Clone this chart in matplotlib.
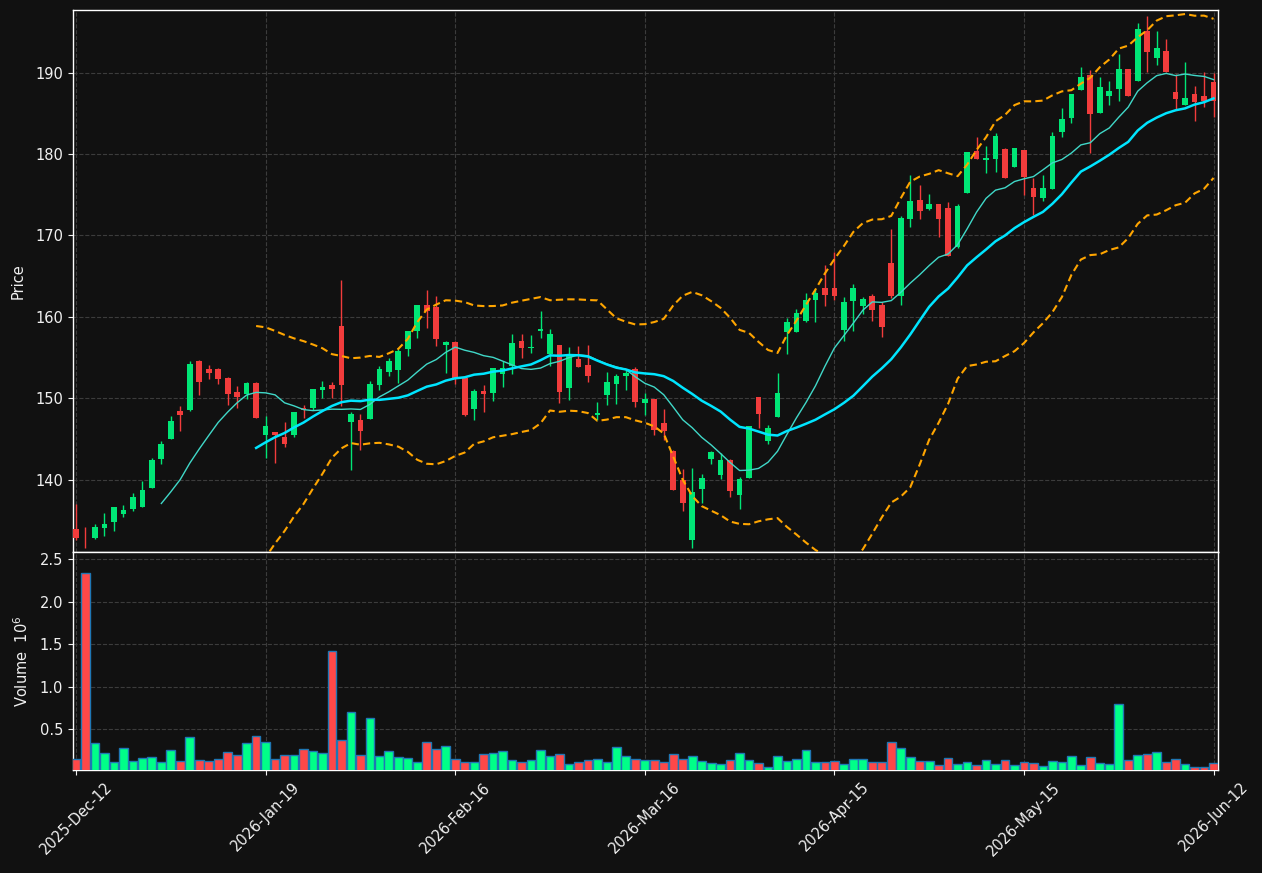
import numpy as np
import pandas as pd
import matplotlib
matplotlib.use("Agg")
import matplotlib.pyplot as plt

# ---- data ----
opens = [133.94, 132.9, 132.88, 134.11, 134.84, 135.83, 136.4, 136.7, 139.02, 142.58,
         145.04, 148.44, 148.6, 154.54, 153.6, 153.6, 152.49, 150.77, 150.49, 151.88,
         145.49, 145.82, 145.25, 145.53, 148.8, 148.85, 151.06, 151.6, 158.88, 147.13,
         147.33, 147.49, 151.63, 153.27, 153.51, 156.06, 158.3, 161.46, 161.22, 156.5,
         156.92, 152.53, 148.72, 150.9, 150.69, 153.02, 154.0, 157.04, 156.2, 158.27,
         155.44, 156.55, 151.3, 154.83, 154.09, 147.95, 150.41, 151.79, 152.74, 153.56,
         149.46, 149.88, 147.0, 143.53, 139.96, 132.59, 138.86, 142.54, 140.58, 142.42,
         138.16, 140.25, 150.16, 144.79, 147.74, 158.18, 158.18, 159.5, 162.08, 163.51,
         163.51, 158.39, 161.99, 161.34, 162.53, 161.46, 166.62, 162.6, 172.06, 174.36,
         173.26, 173.87, 173.38, 168.62, 175.26, 180.38, 179.31, 179.43, 180.63, 178.45,
         180.5, 175.8, 174.64, 175.71, 182.75, 184.47, 187.87, 189.72, 185.09, 187.14,
         188.0, 190.45, 189.02, 195.12, 191.84, 192.67, 187.63, 186.07, 187.38, 187.14,
         188.86]
highs = [137.0, 134.15, 134.56, 135.87, 136.7, 136.9, 138.33, 139.8, 142.63, 144.75,
         147.79, 149.05, 154.62, 154.7, 154.05, 153.75, 152.65, 151.51, 151.95, 151.95,
         147.85, 145.9, 147.13, 148.3, 149.18, 151.2, 152.09, 152.0, 164.5, 148.32,
         148.07, 152.16, 153.97, 154.91, 156.09, 158.3, 161.5, 163.3, 162.57, 157.0,
         157.0, 152.6, 151.14, 151.6, 153.75, 154.62, 157.9, 157.9, 157.78, 160.72,
         158.48, 156.6, 156.27, 156.46, 156.55, 149.51, 153.19, 152.99, 153.48, 153.8,
         150.61, 149.95, 148.65, 143.6, 141.31, 141.4, 140.66, 143.56, 143.24, 142.5,
         140.29, 146.65, 150.2, 146.72, 153.07, 159.83, 160.93, 162.9, 163.43, 166.34,
         167.94, 162.48, 164.0, 162.48, 162.81, 161.79, 170.76, 172.43, 177.43, 176.17,
         175.06, 173.9, 174.15, 173.83, 180.25, 182.06, 181.0, 182.56, 180.7, 180.8,
         180.55, 177.03, 177.43, 182.75, 185.63, 187.4, 190.66, 190.33, 189.43, 188.98,
         192.26, 190.5, 196.07, 196.97, 195.09, 194.1, 189.8, 191.28, 188.37, 190.09,
         189.93]
lows = [132.6, 131.57, 132.71, 133.12, 133.74, 135.46, 136.2, 136.6, 138.95, 141.89,
        144.95, 145.95, 148.5, 150.37, 152.33, 151.72, 149.14, 148.85, 149.88, 147.55,
        142.63, 142.01, 143.98, 145.21, 147.54, 148.56, 150.07, 150.07, 149.02, 141.19,
        143.65, 147.45, 151.02, 152.74, 151.84, 155.2, 157.37, 158.6, 156.46, 153.07,
        151.76, 147.83, 147.33, 148.35, 149.63, 151.43, 152.95, 154.99, 155.53, 157.37,
        153.97, 149.39, 149.79, 153.8, 151.97, 147.33, 149.18, 149.26, 151.02, 148.97,
        147.95, 145.45, 144.88, 138.7, 136.2, 131.57, 137.17, 141.89, 140.05, 137.84,
        136.36, 140.2, 146.31, 144.35, 147.7, 155.44, 158.15, 159.4, 159.41, 161.38,
        162.08, 157.0, 158.3, 160.32, 159.53, 157.57, 162.29, 161.46, 171.08, 171.99,
        173.13, 169.78, 167.5, 168.5, 175.2, 179.4, 177.64, 177.84, 177.05, 178.4,
        174.98, 172.52, 174.28, 175.65, 182.06, 183.78, 187.85, 180.17, 185.05, 186.03,
        186.56, 187.1, 188.95, 190.09, 190.91, 190.1, 185.58, 186.03, 184.07, 185.82,
        184.52]
closes = [132.88, 132.8, 134.19, 134.6, 136.65, 136.28, 137.87, 138.73, 142.42, 144.39,
          147.21, 147.99, 154.21, 152.04, 153.15, 152.41, 150.57, 150.2, 151.88, 147.62,
          146.62, 145.53, 144.43, 148.28, 148.6, 151.14, 151.39, 151.18, 151.67, 148.07,
          146.02, 151.76, 153.6, 154.58, 155.81, 158.27, 161.46, 160.76, 157.28, 156.92,
          152.46, 147.95, 150.9, 150.57, 153.72, 153.72, 156.79, 156.22, 156.3, 158.51,
          157.9, 150.81, 155.44, 153.88, 152.78, 148.23, 152.04, 152.74, 153.07, 149.59,
          149.91, 146.11, 146.02, 138.77, 137.17, 138.49, 140.21, 143.4, 142.42, 138.61,
          140.09, 146.6, 148.11, 146.35, 150.65, 159.37, 160.44, 162.08, 162.9, 162.69,
          162.6, 161.79, 163.51, 162.2, 160.85, 158.8, 162.6, 172.15, 174.24, 173.05,
          173.87, 172.03, 167.52, 173.62, 180.22, 179.43, 179.52, 182.22, 177.1, 180.75,
          177.22, 174.77, 175.8, 182.22, 184.31, 187.38, 189.51, 184.93, 188.21, 187.75,
          190.45, 187.14, 195.37, 192.58, 193.03, 190.12, 186.81, 186.89, 186.44, 186.56,
          186.56]
volumes_m = [0.15, 2.335, 0.335, 0.22, 0.11, 0.28, 0.124, 0.159, 0.17, 0.11,
             0.253, 0.124, 0.406, 0.135, 0.124, 0.147, 0.23, 0.194, 0.335, 0.418,
             0.347, 0.147, 0.194, 0.194, 0.265, 0.241, 0.22, 1.418, 0.374, 0.70,
             0.194, 0.629, 0.182, 0.241, 0.17, 0.159, 0.12, 0.347, 0.265, 0.30,
             0.147, 0.12, 0.12, 0.206, 0.22, 0.241, 0.135, 0.12, 0.135, 0.253,
             0.182, 0.206, 0.096, 0.12, 0.135, 0.147, 0.11, 0.288, 0.182, 0.147,
             0.135, 0.135, 0.12, 0.206, 0.147, 0.182, 0.124, 0.10, 0.088, 0.135,
             0.22, 0.135, 0.10, 0.053, 0.182, 0.124, 0.147, 0.253, 0.11, 0.11,
             0.124, 0.088, 0.147, 0.147, 0.11, 0.11, 0.347, 0.276, 0.17, 0.124,
             0.124, 0.076, 0.159, 0.088, 0.11, 0.076, 0.135, 0.088, 0.135, 0.076,
             0.11, 0.10, 0.065, 0.124, 0.11, 0.182, 0.076, 0.17, 0.10, 0.088,
             0.794, 0.135, 0.194, 0.206, 0.23, 0.11, 0.147, 0.088, 0.053, 0.053,
             0.10]
tick_labels = ["2025-Dec-12", "2026-Jan-19", "2026-Feb-16", "2026-Mar-16",
               "2026-Apr-15", "2026-May-15", "2026-Jun-12"]
tick_step = 20

# ---- styling ----
BG = "#111111"
UP = "#00e676"
DOWN = "#f23c3c"
VUP = "#00ff88"
VDOWN = "#ff4848"
TXT = "#f0f0f0"

plt.rcParams["font.family"] = ["DejaVu Sans"]

o = np.array(opens); h = np.array(highs); l = np.array(lows); c = np.array(closes)
v = np.array(volumes_m)
x = np.arange(len(c))
up = c >= o

cs = pd.Series(c)
ma10 = cs.rolling(10).mean()
ma20 = cs.rolling(20).mean()
sd20 = cs.rolling(20).std(ddof=0)
bb_up = ma20 + 2 * sd20
bb_lo = ma20 - 2 * sd20

W, H = 1262, 873
fig = plt.figure(figsize=(W / 100, H / 100), dpi=100, facecolor=BG)
L, R = 72.7 / W, 1218.3 / W
ax = fig.add_axes([L, 1 - 552 / H, R - L, (552 - 10) / H])
axv = fig.add_axes([L, 1 - 770 / H, R - L, (770 - 552) / H], sharex=ax)

for a in (ax, axv):
    a.set_facecolor(BG)
    for s in a.spines.values():
        s.set_color("white")
        s.set_linewidth(1.0)
    a.tick_params(colors=TXT, labelsize=10.5)
    a.grid(True, color="#3c3c3c", linestyle="--", linewidth=0.8)
    a.set_axisbelow(True)

# candles
ax.vlines(x, l, h, colors=np.where(up, UP, DOWN), linewidth=1.0, zorder=2)
body_lo = np.minimum(o, c)
body_h = np.maximum(np.abs(c - o), 0.1)
ax.bar(x, body_h, bottom=body_lo, width=0.6, color=np.where(up, UP, DOWN),
       linewidth=0, zorder=3)

# indicators
ax.plot(x, ma10, color="#40d8c8", linewidth=1.0, zorder=4)
ax.plot(x, ma20, color="#00e5ff", linewidth=1.8, zorder=4)
ax.plot(x, bb_up, color="#ffa500", linewidth=1.5, linestyle=(0, (3.5, 2)), zorder=4)
ax.plot(x, bb_lo, color="#ffa500", linewidth=1.5, linestyle=(0, (3.5, 2)), zorder=4)

ax.set_ylim(131.12, 197.7)
ax.set_yticks([140, 150, 160, 170, 180, 190])
ax.set_ylabel("Price", color=TXT, fontsize=10.5, labelpad=7)
ax.tick_params(axis="x", which="both", length=0, labelbottom=False)

# volume
axv.bar(x, v, width=0.92, color=np.where(up, VUP, VDOWN), edgecolor="#1f77b4",
        linewidth=1.0, zorder=3)
axv.set_ylim(0.021, 2.586)
axv.set_yticks([0.5, 1.0, 1.5, 2.0, 2.5])
axv.set_ylabel("Volume  $10^{6}$", color=TXT, fontsize=10.5, labelpad=6)

ticks = np.arange(0, len(c), tick_step)
axv.set_xticks(ticks)
axv.set_xticklabels(tick_labels, rotation=45, ha="center")
axv.set_xlim(-0.35, len(c) - 0.5)

fig.savefig("out.png", dpi=100, facecolor=BG)
